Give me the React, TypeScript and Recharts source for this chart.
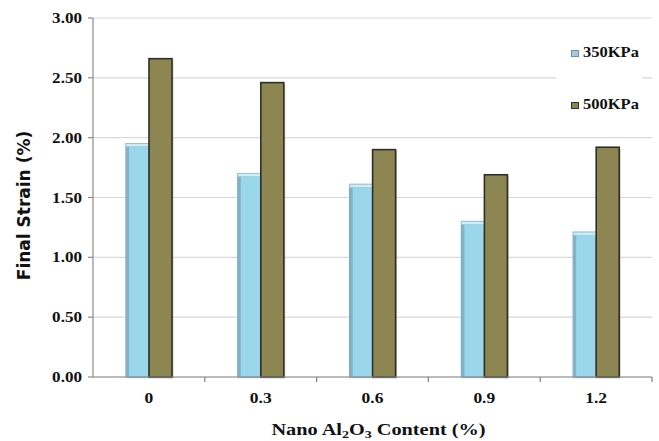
import React from 'react';
import { BarChart, Bar, XAxis, YAxis, CartesianGrid, Legend } from 'recharts';

const categories = ['0', '0.3', '0.6', '0.9', '1.2'];
const strain350 = [1.95, 1.70, 1.61, 1.30, 1.21];
const strain500 = [2.66, 2.46, 1.90, 1.69, 1.92];
const yTicks = [0, 0.5, 1, 1.5, 2, 2.5, 3];
const seriesNames = ['350KPa', '500KPa'];

const data = categories.map((c, i) => ({ content: c, s350: strain350[i], s500: strain500[i] }));

const SERIF = '"Liberation Serif", "Times New Roman", serif';
const SANS = '"DejaVu Sans", Verdana, sans-serif';

const SText = ({ x, y, sx, anchor, size, children }: any) => (
  <g transform={`translate(${x} ${y}) scale(${sx} 1)`}>
    <text x={0} y={0} textAnchor={anchor} fontFamily={SERIF} fontWeight="bold" fontSize={size} fill="#111">
      {children}
    </text>
  </g>
);

const XTick = (props: any) => {
  const { x, y, payload, width, visibleTicksCount } = props;
  const half = payload && payload.offset ? payload.offset : width / visibleTicksCount / 2;
  return (
    <g>
      <line x1={x + half} x2={x + half} y1={y} y2={y + 5} stroke="#808080" strokeWidth={1.2} />
      <SText x={x} y={y + 26} sx={1.25} anchor="middle" size={14}>{payload.value}</SText>
    </g>
  );
};

const YTick = (props: any) => {
  const { x, y, payload } = props;
  return (
    <SText x={x + 2} y={y + 5} sx={1.22} anchor="end" size={14}>
      {Number(payload.value).toFixed(2)}
    </SText>
  );
};

const BlueBar = (props: any) => {
  const { x, y, width, height } = props;
  if (!height || height <= 0) return null;
  return (
    <g>
      <rect x={x + 1.5} y={y + 1.5} width={width} height={height} fill="#b8c4c8" opacity={0.5} />
      <rect x={x} y={y} width={width} height={height} fill="#9bd7ea" stroke="#79a6bb" strokeWidth={1.2} />
      <rect x={x} y={y} width={3} height={height} fill="#80b3c9" />
      <rect x={x} y={y} width={width} height={3} fill="#cdeef8" stroke="#9cc5d6" strokeWidth={0.6} />
    </g>
  );
};

const OliveBar = (props: any) => {
  const { x, y, width, height } = props;
  if (!height || height <= 0) return null;
  return (
    <g>
      <rect x={x + 1.5} y={y + 1.5} width={width} height={height} fill="#9a9a9a" opacity={0.5} />
      <rect x={x} y={y} width={width} height={height} fill="#8e8652" stroke="#2f2f25" strokeWidth={1.6} />
    </g>
  );
};

const legendText: React.CSSProperties = {
  position: 'absolute',
  left: 27,
  fontFamily: SERIF,
  fontWeight: 'bold',
  fontSize: 15,
  lineHeight: '15px',
  color: '#111',
  whiteSpace: 'nowrap',
  transform: 'scaleX(1.1)',
  transformOrigin: 'left center',
};

const LegendContent = () => (
  <div style={{ position: 'relative', width: 86, height: 76, background: '#fff' }}>
    <div style={{ position: 'absolute', left: 15, top: 10, width: 6, height: 5, background: '#a9c9da', border: '1px solid #6d8fa8' }} />
    <div style={{ ...legendText, top: 5 }}>{seriesNames[0]}</div>
    <div style={{ position: 'absolute', left: 15, top: 62, width: 6, height: 5, background: '#8e8652', border: '1px solid #333' }} />
    <div style={{ ...legendText, top: 57 }}>{seriesNames[1]}</div>
  </div>
);

const XTitle = (props: any) => {
  const vb = props.viewBox || { x: 93, y: 377, width: 559, height: 64 };
  const cx = vb.x + vb.width / 2 + 6;
  return (
    <g transform={`translate(${cx} ${vb.y + 58}) scale(1.27 1)`}>
      <text x={0} y={0} textAnchor="middle" fontFamily={SERIF} fontWeight="bold" fontSize={16} fill="#111">
        Nano Al
        <tspan fontSize={11} dy={3}>2</tspan>
        <tspan dy={-3}>O</tspan>
        <tspan fontSize={11} dy={3}>3</tspan>
        <tspan dy={-3}> Content (%)</tspan>
      </text>
    </g>
  );
};

const YTitle = (props: any) => {
  const vb = props.viewBox || { x: 0, y: 18, width: 93, height: 359 };
  const cx = vb.x + 24;
  const cy = vb.y + vb.height / 2 + 8;
  return (
    <text x={cx} y={cy} transform={`rotate(-90 ${cx} ${cy})`} textAnchor="middle" dominantBaseline="central" fontFamily={SANS} fontWeight="bold" fontSize={17} fill="#111">
      Final Strain (%)
    </text>
  );
};

export default function App() {
  return (
    <div style={{ position: 'absolute', left: 0, top: 0, width: 659, height: 441, background: '#fff' }}>
      <BarChart
        width={659}
        height={441}
        data={data}
        margin={{ top: 18, right: 7, left: 0, bottom: 0 }}
        barGap={0}
        barSize={23}
      >
        <CartesianGrid vertical={false} stroke="#d9d9d9" strokeWidth={1.2} />
        <XAxis
          dataKey="content"
          height={64}
          axisLine={{ stroke: '#8a8a8a', strokeWidth: 1.2 }}
          tickLine={false}
          tickSize={0}
          tickMargin={0}
          tick={<XTick />}
          interval={0}
          label={<XTitle />}
        />
        <YAxis
          width={93}
          domain={[0, 3]}
          ticks={yTicks}
          interval={0}
          axisLine={{ stroke: '#8a8a8a', strokeWidth: 1.2 }}
          tickLine={{ stroke: '#8a8a8a', strokeWidth: 1.2 }}
          tickSize={5}
          tickMargin={8}
          tick={<YTick />}
          label={<YTitle />}
        />
        <Legend
          layout="horizontal"
          verticalAlign="middle"
          align="center"
          content={<LegendContent />}
          wrapperStyle={{ position: 'absolute', top: 40, left: 556, width: 86, height: 76 }}
        />
        <Bar dataKey="s350" name={seriesNames[0]} shape={<BlueBar />} isAnimationActive={false} />
        <Bar dataKey="s500" name={seriesNames[1]} shape={<OliveBar />} isAnimationActive={false} />
      </BarChart>
    </div>
  );
}
